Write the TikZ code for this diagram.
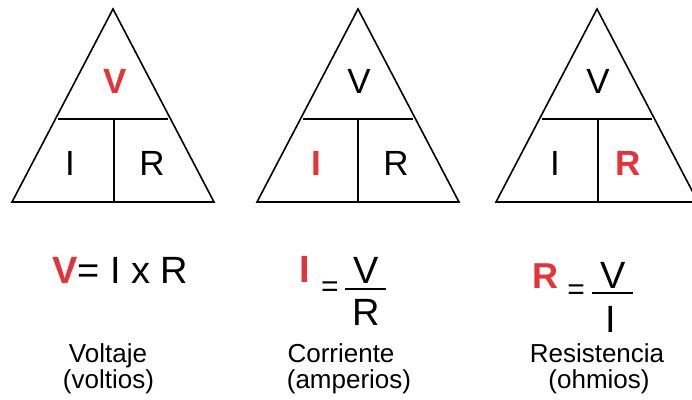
\documentclass[tikz,border=0pt]{standalone}
\usepackage{fontspec}
\setmainfont{Liberation Sans}
\definecolor{ohmred}{RGB}{228,52,58}
\tikzset{
  tri/.style={line width=1.6pt, line join=miter},
  big/.style={font=\fontsize{35}{35}\selectfont, inner sep=0pt, anchor=base},
  form/.style={font=\fontsize{38}{38}\selectfont, inner sep=0pt, anchor=base},
  eqs/.style={font=\fontsize{30}{30}\selectfont, inner sep=0pt},
  lab/.style={font=\fontsize{26}{26}\selectfont, inner sep=0pt, anchor=base},
  hl/.style={text=ohmred},
  bar/.style={line width=1.8pt},
}
\begin{document}
\begin{tikzpicture}[x=1pt,y=-1pt]
\useasboundingbox (0,0) rectangle (692,399);
\clip (0,0) rectangle (692,399);
\fill[white] (0,0) rectangle (692,399);
% triangle 1
\draw[tri] (12,202) -- (113,9) -- (214,202) -- cycle;
\draw[tri] (57.8,119) -- (168.2,119);
\draw[tri] (114,119) -- (114,202);
\node[big, hl, font=\fontsize{35}{35}\selectfont\bfseries] (v1) at (115,93) {V};
\node[big] (i1) at (70,175) {I};
\node[big] (r1) at (152,175) {R};
% triangle 2
\draw[tri] (257,202) -- (358,9) -- (459,202) -- cycle;
\draw[tri] (302.8,119) -- (413.2,119);
\draw[tri] (358,119) -- (358,202);
\node[big] (v2) at (359,93) {V};
\node[big, hl, font=\fontsize{35}{35}\selectfont\bfseries] (i2) at (316,175) {I};
\node[big] (r2) at (396,175) {R};
% triangle 3
\draw[tri] (496,202) -- (597,9) -- (698,202) -- cycle;
\draw[tri] (541.8,119) -- (652.2,119);
\draw[tri] (598,119) -- (598,202);
\node[big] (v3) at (598,93) {V};
\node[big] (i3) at (555,175) {I};
\node[big, hl, font=\fontsize{35}{35}\selectfont\bfseries] (r3) at (628,175) {R};
% formula 1
\node[form, anchor=base west] (f1) at (52,283) {{\color{ohmred}\bfseries V}= I x R};
% formula 2
\node[form, hl, font=\fontsize{38}{38}\selectfont\bfseries] (f2l) at (305,282) {I};
\node[eqs] (f2e) at (330,289) {=};
\node[form] (f2n) at (366,283) {V};
\node[form] (f2d) at (366,325) {R};
\draw[bar] (345,289) -- (386,289);
% formula 3
\node[form, hl, font=\fontsize{36}{36}\selectfont\bfseries] (f3l) at (545,288) {R};
\node[eqs] (f3e) at (576,292) {=};
\node[form] (f3n) at (613,288) {V};
\node[form] (f3d) at (611,332) {I};
\draw[bar] (592,293) -- (633,293);
% labels
\node[lab] (l1a) at (108,362) {Voltaje};
\node[lab] (l1b) at (108.5,388) {(voltios)};
\node[lab] (l2a) at (341,362) {Corriente};
\node[lab] (l2b) at (349,388) {(amperios)};
\node[lab] (l3a) at (597,362) {Resistencia};
\node[lab] (l3b) at (599,388) {(ohmios)};
\end{tikzpicture}
\end{document}
